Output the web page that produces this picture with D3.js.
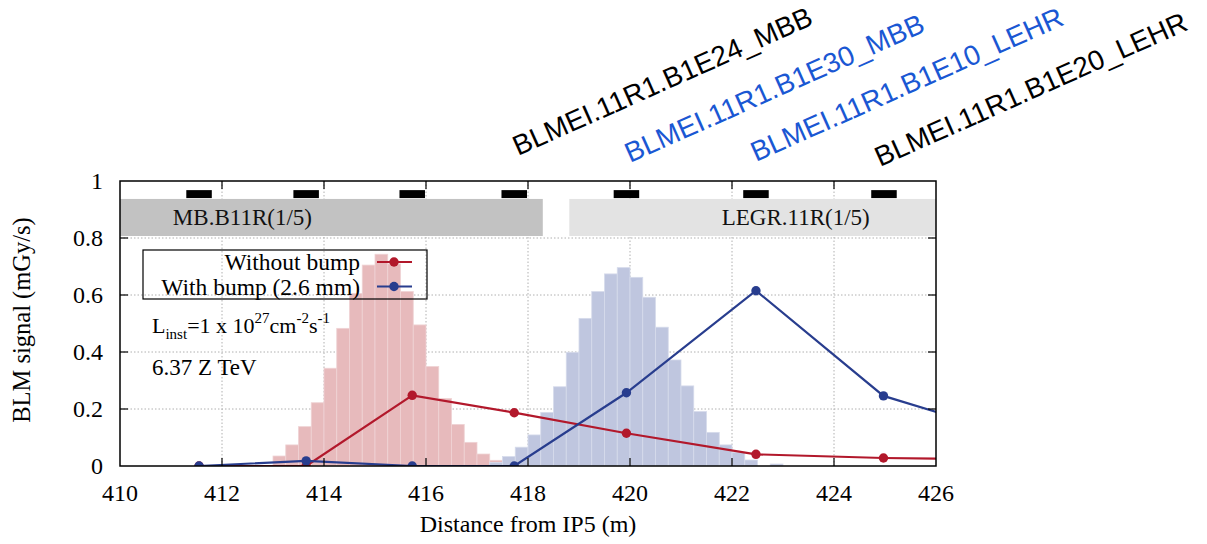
<!DOCTYPE html>
<html><head><meta charset="utf-8">
<script src="https://cdn.jsdelivr.net/npm/d3@7"></script>
<style>
html,body{margin:0;padding:0;background:#fff;}
svg text{font-family:"Liberation Serif","Times New Roman",serif;}
</style></head>
<body><svg id="c" width="1207" height="544"></svg>
<script>
// ---------------- data ----------------
const xTicks = [410, 412, 414, 416, 418, 420, 422, 424, 426];
const yTicks = [0, 0.2, 0.4, 0.6, 0.8, 1];
const binWidth = 0.25;
const redBinStarts = [413.0, 413.25, 413.5, 413.75, 414.0, 414.25, 414.5, 414.75, 415.0, 415.25, 415.5, 415.75, 416.0, 416.25, 416.5, 416.75, 417.0, 417.25];
const redBinValues = [0.035, 0.074, 0.138, 0.222, 0.343, 0.483, 0.605, 0.705, 0.743, 0.709, 0.612, 0.495, 0.349, 0.237, 0.146, 0.083, 0.042, 0.020];
const blueBinStarts = [417.25, 417.5, 417.75, 418.0, 418.25, 418.5, 418.75, 419.0, 419.25, 419.5, 419.75, 420.0, 420.25, 420.5, 420.75, 421.0, 421.25, 421.5, 421.75, 422.0, 422.25, 422.5, 422.75];
const blueBinValues = [0.012, 0.033, 0.066, 0.109, 0.188, 0.278, 0.399, 0.518, 0.612, 0.674, 0.696, 0.662, 0.592, 0.487, 0.372, 0.281, 0.191, 0.118, 0.074, 0.048, 0.021, 0.0, 0.007];
const blmX = [411.55, 413.65, 415.73, 417.73, 419.93, 422.47, 424.97, 427.5];
const withoutBump = [0, 0, 0.248, 0.187, 0.115, 0.041, 0.028, 0.023];
const withBump = [0, 0.018, 0, 0, 0.257, 0.615, 0.246, 0.108];
const monitorPos = [411.55, 413.65, 415.73, 417.73, 419.93, 422.47, 424.98];
const monitorWidth = 0.5;
const monitorY = [0.94, 0.968];
const elements = [
  {name: "MB.B11R(1/5)", from: 409, to: 418.29, labelAt: 412.4},
  {name: "LEGR.11R(1/5)", from: 418.81, to: 427, labelAt: 423.25}
];
const elementY = [0.807, 0.937];
const seriesNames = ["Without bump", "With bump (2.6 mm)"];
const blmLabels = ["BLMEI.11R1.B1E24_MBB", "BLMEI.11R1.B1E30_MBB", "BLMEI.11R1.B1E10_LEHR", "BLMEI.11R1.B1E20_LEHR"];
const blmLabelColors = ["#000000", "#1a57d3", "#1a57d3", "#000000"];

// ---------------- layout ----------------
const L = 120, R = 936, T = 181, B = 466;
const svg = d3.select("#c");
const x = d3.scaleLinear().domain([410, 426]).range([L, R]);
const y = d3.scaleLinear().domain([0, 1]).range([B, T]);
const RED = "#b2182b", BLUE = "#283d8e";

svg.append("defs").append("clipPath").attr("id", "plot")
  .append("rect").attr("x", L).attr("y", T).attr("width", R - L).attr("height", B - T);

// grid
const grid = svg.append("g");
grid.selectAll("line.vx").data(xTicks.slice(1, -1)).join("line")
  .attr("x1", d => x(d)).attr("x2", d => x(d)).attr("y1", T).attr("y2", B)
  .attr("stroke", "#b0b0b0").attr("stroke-width", 1).attr("stroke-dasharray", "1.5,2");
grid.selectAll("line.hy").data(yTicks.slice(1, -1)).join("line")
  .attr("y1", d => y(d)).attr("y2", d => y(d)).attr("x1", L).attr("x2", R)
  .attr("stroke", "#b0b0b0").attr("stroke-width", 1).attr("stroke-dasharray", "1.5,2");

const plot = svg.append("g").attr("clip-path", "url(#plot)");

// element bands
plot.selectAll("rect.el").data(elements).join("rect")
  .attr("x", d => x(d.from)).attr("width", d => x(d.to) - x(d.from))
  .attr("y", y(elementY[1])).attr("height", y(elementY[0]) - y(elementY[1]))
  .attr("fill", (d, i) => i === 0 ? "#c2c2c2" : "#e3e3e3");
svg.selectAll("text.el").data(elements).join("text")
  .attr("x", d => x(d.labelAt)).attr("y", y(elementY[0]) - 11)
  .attr("text-anchor", "middle").attr("font-size", 23).attr("fill", "#111")
  .text(d => d.name);

// monitors
plot.selectAll("rect.mon").data(monitorPos).join("rect")
  .attr("x", d => x(d - monitorWidth / 2)).attr("width", d => x(d + monitorWidth / 2) - x(d - monitorWidth / 2))
  .attr("y", y(monitorY[1])).attr("height", y(monitorY[0]) - y(monitorY[1]))
  .attr("fill", "#000");

// histograms
function hist(starts, vals, fill, stroke) {
  plot.append("g").selectAll("rect").data(starts.map((s, i) => ({s, v: vals[i]}))).join("rect")
    .attr("x", d => x(d.s)).attr("width", d => x(d.s + binWidth) - x(d.s))
    .attr("y", d => y(d.v)).attr("height", d => y(0) - y(d.v))
    .attr("fill", fill).attr("stroke", stroke).attr("stroke-width", 0.8);
}
hist(redBinStarts, redBinValues, "#e7babc", "#efd3d4");
hist(blueBinStarts, blueBinValues, "#bfc6df", "#d6dbeb");

// lines
function series(vals, color) {
  const pts = blmX.map((v, i) => [v, vals[i]]);
  plot.append("path").datum(pts)
    .attr("d", d3.line().x(d => x(d[0])).y(d => y(d[1])))
    .attr("fill", "none").attr("stroke", color).attr("stroke-width", 2.2);
  plot.append("g").selectAll("circle").data(pts.filter(p => p[0] <= 426)).join("circle")
    .attr("cx", d => x(d[0])).attr("cy", d => y(d[1])).attr("r", 4.7).attr("fill", color);
}
series(withoutBump, RED);
series(withBump, BLUE);

// frame & ticks
svg.append("rect").attr("x", L).attr("y", T).attr("width", R - L).attr("height", B - T)
  .attr("fill", "none").attr("stroke", "#000").attr("stroke-width", 1.5);
const tk = svg.append("g").attr("stroke", "#000").attr("stroke-width", 1.2);
xTicks.slice(1, -1).forEach(v => {
  tk.append("line").attr("x1", x(v)).attr("x2", x(v)).attr("y1", B).attr("y2", B - 8);
  tk.append("line").attr("x1", x(v)).attr("x2", x(v)).attr("y1", T).attr("y2", T + 8);
});
yTicks.slice(1, -1).forEach(v => {
  tk.append("line").attr("y1", y(v)).attr("y2", y(v)).attr("x1", L).attr("x2", L + 8);
  tk.append("line").attr("y1", y(v)).attr("y2", y(v)).attr("x1", R).attr("x2", R - 8);
});

// tick labels
svg.selectAll("text.xt").data(xTicks).join("text")
  .attr("x", d => x(d)).attr("y", B + 35).attr("text-anchor", "middle")
  .attr("font-size", 24).text(d => d);
svg.selectAll("text.yt").data(yTicks).join("text")
  .attr("x", L - 17).attr("y", d => y(d) + 8).attr("text-anchor", "end")
  .attr("font-size", 24).text(d => d);

// axis titles
svg.append("text").attr("x", 528).attr("y", 532).attr("text-anchor", "middle")
  .attr("font-size", 24).text("Distance from IP5 (m)");
svg.append("text").attr("transform", "translate(30,320) rotate(-90)").attr("text-anchor", "middle")
  .attr("font-size", 24.5).text("BLM signal (mGy/s)");

// legend
const lg = svg.append("g");
lg.append("rect").attr("x", 143).attr("y", 250).attr("width", 284).attr("height", 49)
  .attr("fill", "none").attr("stroke", "#000").attr("stroke-width", 1.2);
[RED, BLUE].forEach((c, i) => {
  const yy = 262 + i * 24.5;
  lg.append("text").attr("x", 360).attr("y", yy + 8).attr("text-anchor", "end")
    .attr("font-size", 23.5).text(seriesNames[i]);
  lg.append("line").attr("x1", 377).attr("x2", 412).attr("y1", yy).attr("y2", yy)
    .attr("stroke", c).attr("stroke-width", 2);
  lg.append("circle").attr("cx", 394).attr("cy", yy).attr("r", 4.7).attr("fill", c);
});

// annotations
const a1 = svg.append("text").attr("x", 152).attr("y", 333).attr("font-size", 22);
a1.append("tspan").text("L");
a1.append("tspan").attr("font-size", 15).attr("dy", 6).text("inst");
a1.append("tspan").attr("dy", -6).text("=1 x 10");
a1.append("tspan").attr("font-size", 15).attr("dy", -10).text("27");
a1.append("tspan").attr("dy", 10).text("cm");
a1.append("tspan").attr("font-size", 15).attr("dy", -10).text("-2");
a1.append("tspan").attr("dy", 10).text("s");
a1.append("tspan").attr("font-size", 15).attr("dy", -10).text("-1");
svg.append("text").attr("x", 152).attr("y", 375).attr("font-size", 23).text("6.37 Z TeV");

// BLM name labels (rotated)
const labelAnchors = [[518, 156], [630, 163], [756, 162], [880, 167]];
svg.selectAll("text.blm").data(blmLabels).join("text")
  .attr("transform", (d, i) => `translate(${labelAnchors[i][0]},${labelAnchors[i][1]}) rotate(-24)`)
  .style("font-family", "'Liberation Sans', Arial, sans-serif")
  .attr("font-size", 28).attr("fill", (d, i) => blmLabelColors[i])
  .text(d => d);
</script></body></html>
